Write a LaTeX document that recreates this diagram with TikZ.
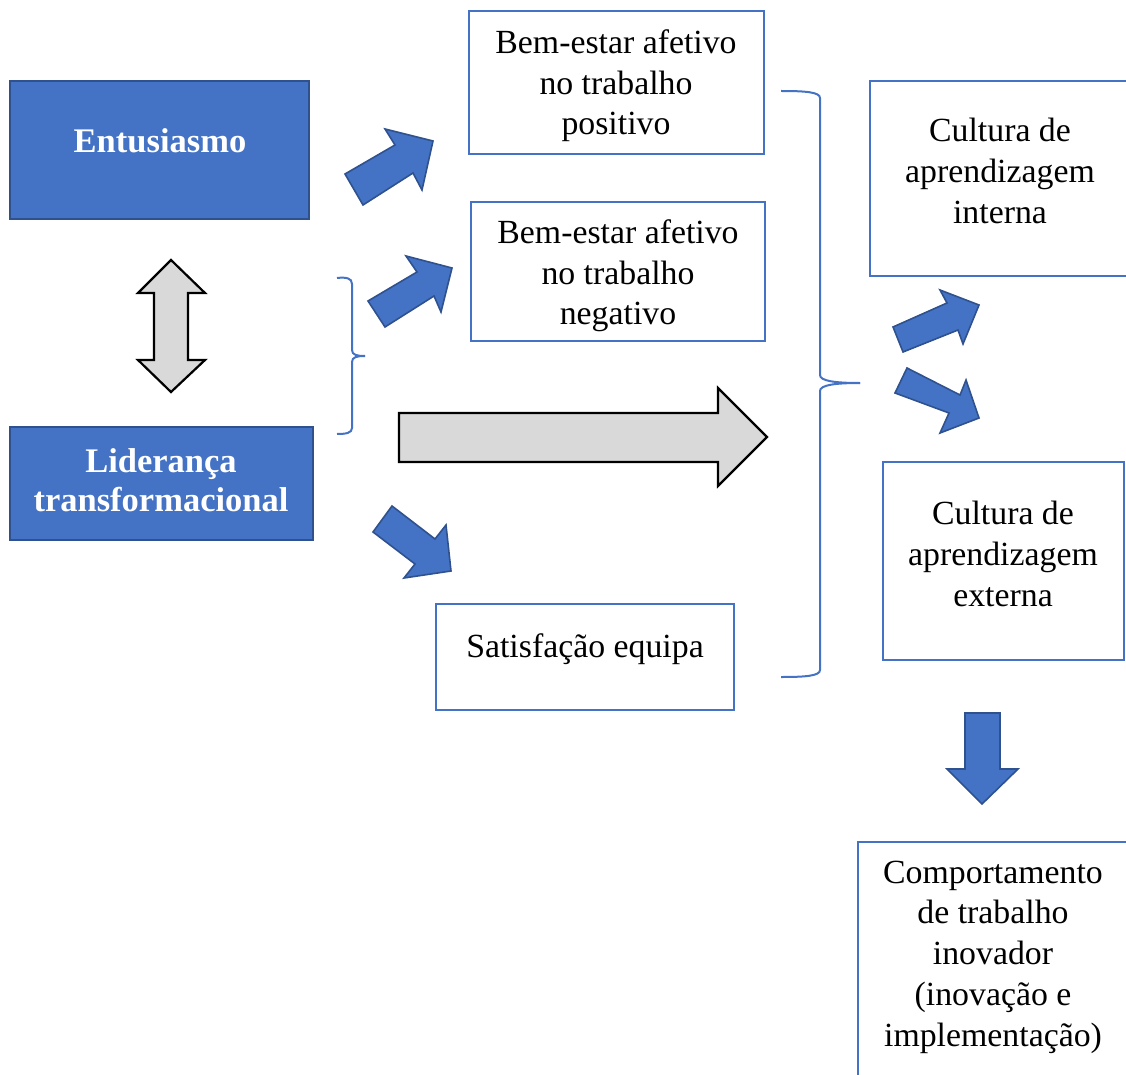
\documentclass[tikz,border=0pt]{standalone}
\usepackage{fontspec}
\setmainfont{Liberation Serif}
\definecolor{wblue}{HTML}{4472C4}
\definecolor{wdark}{HTML}{2F528F}
\definecolor{wgray}{HTML}{D9D9D9}
\begin{document}
\begin{tikzpicture}[x=1pt,y=-1pt,
  txt/.style={font=\fontsize{33.8}{40.7}\selectfont,align=center,inner sep=0pt,text=black},
  btxt/.style={font=\fontsize{34.5}{39}\selectfont\bfseries,align=center,inner sep=0pt,text=white},
  wbox/.style={draw=wblue,line width=2pt,fill=white},
  bbox/.style={draw=wdark,line width=2pt,fill=wblue},
  barrow/.style={draw=wdark,line width=1.6pt,fill=wblue,line join=miter},
  garrow/.style={draw=black,line width=2.2pt,fill=wgray,line join=miter},
  brace/.style={draw=wblue,line width=2pt}]
\useasboundingbox (0,0) rectangle (1126,1075);
% left blue boxes
\draw[bbox] (10,81) rectangle (309,219);
\node[btxt] (ent) at (160,141) {Entusiasmo};
\draw[bbox] (10,427) rectangle (313,540);
\node[btxt] (lid) at (161,480) {Liderança\\transformacional};
% white boxes
\draw[wbox] (469,11) rectangle (764,154);
\node[txt] (bpos) at (616,86) {Bem-estar afetivo\\no trabalho\\positivo};
\draw[wbox] (471,202) rectangle (765,341);
\node[txt] (bneg) at (618,276) {Bem-estar afetivo\\no trabalho\\negativo};
\draw[wbox] (436,604) rectangle (734,710);
\node[txt] (sat) at (585,649) {Satisfação equipa};
\draw[wbox] (1130,81) -- (870,81) -- (870,276) -- (1130,276);
\node[txt] (cint) at (1000,171) {Cultura de\\aprendizagem\\interna};
\draw[wbox] (883,462) rectangle (1124,660);
\node[txt] (cext) at (1003,554) {Cultura de\\aprendizagem\\externa};
\draw[wbox] (1130,842) -- (858,842) -- (858,1080);
\node[txt] (comp) at (993,957) {Comportamento\\de trabalho\\inovador\\(inovação e\\implementação)};
% double gray arrow
\draw[garrow] (171,260) -- (205,293) -- (188,293) -- (188,360) -- (205,360) -- (171,392)
  -- (138,360) -- (154,360) -- (154,293) -- (138,293) -- cycle;
% big gray arrow
\draw[garrow] (399,413) -- (718,413) -- (718,388) -- (767,437) -- (718,486) -- (718,462) -- (399,462) -- cycle;
% blue block arrows
\draw[barrow] (345,174) -- (395,145) -- (385,129) -- (433,141) -- (422,190) -- (413,173) -- (363,205) -- cycle;
\draw[barrow] (368,301) -- (417,272) -- (406,256) -- (452,268) -- (441,312) -- (434,296) -- (385,327) -- cycle;
\draw[barrow] (373,532) -- (392,506) -- (435,539) -- (446,525) -- (451,571) -- (404,578) -- (415,564) -- cycle;
\draw[barrow] (893,327) -- (947,303) -- (940,290) -- (979,305) -- (963,344) -- (958,330) -- (903,352) -- cycle;
\draw[barrow] (907,368) -- (960,395) -- (966,380) -- (979,418) -- (940,433) -- (949,413) -- (895,393) -- cycle;
\draw[barrow] (965,713) -- (1000,713) -- (1000,769) -- (1018,769) -- (982,804) -- (947,769) -- (965,769) -- cycle;
% braces
\draw[brace] (337,278) .. controls (346,277) and (352,278) .. (352,284) -- (352,350)
  .. controls (352,355) and (357,356) .. (365,356);
\draw[brace] (365,356) .. controls (357,356) and (352,357) .. (352,362) -- (352,428)
  .. controls (352,433) and (346,434) .. (337,434);
\draw[brace] (781,91) .. controls (805,91) and (820,92) .. (820,98) -- (820,375)
  .. controls (820,381) and (835,383) .. (860,383);
\draw[brace] (860,383) .. controls (835,383) and (820,385) .. (820,391) -- (820,670)
  .. controls (820,676) and (805,677) .. (781,677);
\end{tikzpicture}
\end{document}
